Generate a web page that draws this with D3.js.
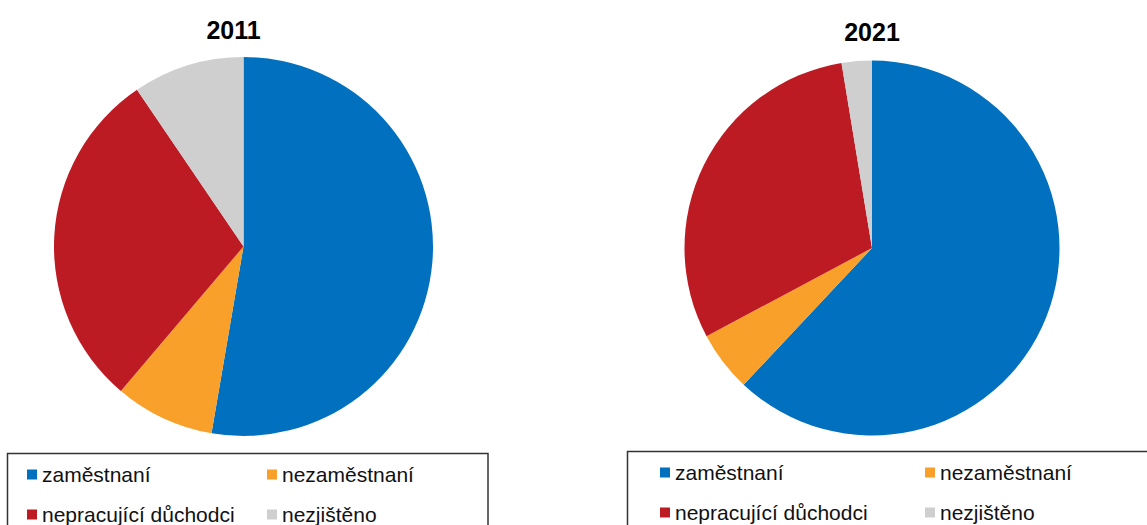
<!DOCTYPE html>
<html>
<head>
<meta charset="utf-8">
<script src="https://cdn.jsdelivr.net/npm/d3@7"></script>
<style>
  html, body { margin: 0; padding: 0; background: #fff; }
  svg { display: block; }
</style>
</head>
<body>
<svg id="chart" width="1147" height="525"></svg>
<script>
const categories = ["zaměstnaní", "nezaměstnaní", "nepracující důchodci", "nezjištěno"];
const years = ["2011", "2021"];
const values2011 = [52.7, 8.5, 29.3, 9.5];
const values2021 = [62.0, 5.2, 30.2, 2.6];
const colors = ["#0070BF", "#F8A02A", "#BD1B24", "#CFCFCF"];

const svg = d3.select("#chart");
const color = d3.scaleOrdinal().domain(categories).range(colors);

const panels = [
  { year: years[0], values: values2011, cx: 243.5, cy: 246.5, r: 189.5, titleX: 233.5, titleY: 39,
    legend: { x: 7.5, y: 453.5, w: 480.5, col2: 240 , sx: 19.5 } },
  { year: years[1], values: values2021, cx: 872, cy: 248, r: 187.5, titleX: 872, titleY: 41,
    legend: { x: 627.5, y: 451.5, w: 540, col2: 265, sx: 32.5 } }
];

const pie = d3.pie().sort(null).value(d => d.value);

panels.forEach(p => {
  const data = categories.map((c, i) => ({ cat: c, value: p.values[i] }));
  const arc = d3.arc().innerRadius(0).outerRadius(p.r);
  const g = svg.append("g").attr("transform", `translate(${p.cx},${p.cy})`);
  g.selectAll("path").data(pie(data)).join("path")
    .attr("d", arc)
    .attr("fill", d => color(d.data.cat));

  svg.append("text")
    .attr("x", p.titleX).attr("y", p.titleY)
    .attr("text-anchor", "middle")
    .attr("font-family", "Liberation Sans, Arial, sans-serif")
    .attr("font-weight", "bold")
    .attr("font-size", 25)
    .attr("fill", "#000")
    .text(p.year);

  const L = p.legend;
  svg.append("rect")
    .attr("x", L.x).attr("y", L.y)
    .attr("width", L.w).attr("height", 120)
    .attr("fill", "none")
    .attr("stroke", "#333")
    .attr("stroke-width", 1.5);

  const lg = svg.append("g").attr("transform", `translate(${L.x},${L.y})`);
  const items = lg.selectAll("g.item").data(categories).join("g")
    .attr("class", "item")
    .attr("transform", (d, i) => `translate(${L.sx + (i % 2) * L.col2},${21 + Math.floor(i / 2) * 40})`);
  items.append("rect")
    .attr("x", 0).attr("y", -5)
    .attr("width", 10).attr("height", 10)
    .attr("fill", d => color(d));
  items.append("text")
    .attr("x", 15).attr("y", 7)
    .attr("font-family", "Liberation Sans, Arial, sans-serif")
    .attr("font-size", 21)
    .attr("fill", "#111")
    .text(d => d);
});
</script>
</body>
</html>
